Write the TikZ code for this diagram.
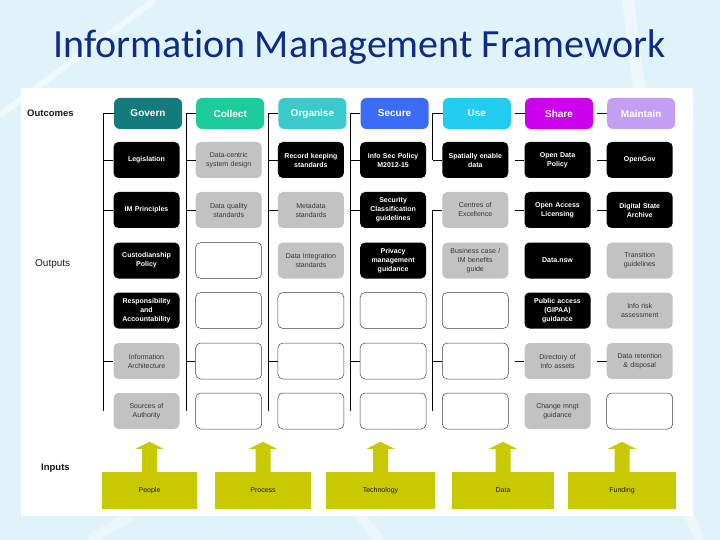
\documentclass[tikz,border=0pt]{standalone}
\usepackage{fontspec}
\setmainfont{Liberation Sans}
\setsansfont{Liberation Sans}
\newfontfamily\titlefont[Ligatures=NoCommon]{Carlito}
\usetikzlibrary{calc}
\definecolor{bgblue}{HTML}{E1F3FA}
\definecolor{titleblue}{HTML}{0E2C86}
\definecolor{cGovern}{HTML}{137B7E}
\definecolor{cCollect}{HTML}{1ECB9A}
\definecolor{cOrganise}{HTML}{3ACACB}
\definecolor{cSecure}{HTML}{3B6CF8}
\definecolor{cUse}{HTML}{22CCF0}
\definecolor{cShare}{HTML}{CC00EC}
\definecolor{cMaintain}{HTML}{C49EF4}
\definecolor{cellgray}{HTML}{C2C2C2}
\definecolor{graytext}{HTML}{363636}
\definecolor{inputyellow}{HTML}{C9C900}
\begin{document}
\begin{tikzpicture}[x=1pt,y=-1pt,
  hdr/.style={rounded corners=6pt, minimum width=68pt, minimum height=31pt, inner sep=0pt, text=white, font=\fontsize{10}{12}\selectfont\bfseries},
  cellbase/.style={rounded corners=5pt, minimum width=66pt, minimum height=36pt, inner sep=1pt, align=center, text width=64pt},
  blk/.style={cellbase, fill=black, text=white, font=\fontsize{7}{9}\selectfont\bfseries},
  gry/.style={cellbase, fill=cellgray, text=graytext, font=\fontsize{7}{9}\selectfont},
  emp/.style={cellbase, draw=black!75, line width=0.5pt, fill=white},
  conn/.style={draw=black, line width=0.8pt},
  inbox/.style={fill=inputyellow, minimum height=37pt, inner sep=0pt, font=\fontsize{7}{9}\selectfont, text=black!90},
  lbl/.style={font=\fontsize{10}{12}\selectfont, text=black!90, anchor=west, inner sep=0pt},
]
\useasboundingbox (0,0) rectangle (720,540);
% background
\fill[bgblue] (0,0) rectangle (720,540);
\draw[white, opacity=0.5, line width=6pt] (0,115) -- (155,0);
\draw[white, opacity=0.4, line width=12pt] (628,0) -- (640,95);
\draw[white, opacity=0.35, line width=10pt] (90,540) -- (130,516);
\draw[white, opacity=0.35, line width=10pt] (360,516) -- (380,540);
\draw[white, opacity=0.35, line width=10pt] (690,516) -- (700,540);
% title
\node[font=\titlefont\fontsize{40}{44}\selectfont, text=titleblue, anchor=base, inner sep=0pt] (title) at (359.5,58) {Information Management Framework};
% panel
\fill[white] (21,88) rectangle (693,516);

% labels
\node[lbl, font=\fontsize{9.5}{12}\selectfont\bfseries] (outcomes) at (27,113.5) {Outcomes};
\node[lbl] (outputs) at (35,264) {Outputs};
\node[lbl, font=\fontsize{9.5}{12}\selectfont\bfseries] (inputs) at (41,468) {Inputs};

% headers
\node[hdr, fill=cGovern]   (h1) at (148,113.5)   {Govern};
\node[hdr, fill=cCollect]  (h2) at (230.2,113.5) {Collect};
\node[hdr, fill=cOrganise] (h3) at (312.4,113.5) {Organise};
\node[hdr, fill=cSecure]   (h4) at (394.6,113.5) {Secure};
\node[hdr, fill=cUse]      (h5) at (476.8,113.5) {Use};
\node[hdr, fill=cShare]    (h6) at (559,113.5)   {Share};
\node[hdr, fill=cMaintain] (h7) at (641.2,113.5) {Maintain};

% column 1
\node[blk] (c1r1) at (146.5,160)   {Legislation};
\node[blk] (c1r2) at (146.5,210)   {IM Principles};
\node[blk] (c1r3) at (146.5,260.5) {Custodianship\\Policy};
\node[blk] (c1r4) at (146.5,310.5) {Responsibility\\and\\Accountability};
\node[gry] (c1r5) at (146.5,361)   {Information\\Architecture};
\node[gry] (c1r6) at (146.5,411)   {Sources of\\Authority};
% column 2
\node[gry] (c2r1) at (228.7,160)   {Data-centric\\system design};
\node[gry] (c2r2) at (228.7,210)   {Data quality\\standards};
\node[emp] (c2r3) at (228.7,260.5) {};
\node[emp] (c2r4) at (228.7,310.5) {};
\node[emp] (c2r5) at (228.7,361)   {};
\node[emp] (c2r6) at (228.7,411)   {};
% column 3
\node[blk] (c3r1) at (310.9,160)   {Record keeping\\standards};
\node[gry] (c3r2) at (310.9,210)   {Metadata\\standards};
\node[gry] (c3r3) at (310.9,260.5) {Data Integration\\standards};
\node[emp] (c3r4) at (310.9,310.5) {};
\node[emp] (c3r5) at (310.9,361)   {};
\node[emp] (c3r6) at (310.9,411)   {};
% column 4
\node[blk] (c4r1) at (393.1,160)   {Info Sec Policy\\M2012-15};
\node[blk] (c4r2) at (393.1,210)   {Security\\Classification\\guidelines};
\node[blk] (c4r3) at (393.1,260.5) {Privacy\\management\\guidance};
\node[emp] (c4r4) at (393.1,310.5) {};
\node[emp] (c4r5) at (393.1,361)   {};
\node[emp] (c4r6) at (393.1,411)   {};
% column 5
\node[blk] (c5r1) at (475.3,160)   {Spatially enable\\data};
\node[gry] (c5r2) at (475.3,210)   {Centres of\\Excellence};
\node[gry] (c5r3) at (475.3,260.5) {Business case /\\IM benefits\\guide};
\node[emp] (c5r4) at (475.3,310.5) {};
\node[emp] (c5r5) at (475.3,361)   {};
\node[emp] (c5r6) at (475.3,411)   {};
% column 6
\node[blk] (c6r1) at (557.5,160)   {Open Data\\Policy};
\node[blk] (c6r2) at (557.5,210)   {Open Access\\Licensing};
\node[blk] (c6r3) at (557.5,260.5) {Data.nsw};
\node[blk] (c6r4) at (557.5,310.5) {Public access\\(GIPAA)\\guidance};
\node[gry] (c6r5) at (557.5,361)   {Directory of\\Info assets};
\node[gry] (c6r6) at (557.5,411)   {Change mngt\\guidance};
% column 7
\node[blk] (c7r1) at (639.7,160)   {OpenGov};
\node[blk] (c7r2) at (639.7,210)   {Digital State\\Archive};
\node[gry] (c7r3) at (639.7,260.5) {Transition\\guidelines};
\node[gry] (c7r4) at (639.7,310.5) {Info risk\\assessment};
\node[gry] (c7r5) at (639.7,361)   {Data retention\\\& disposal};
\node[emp] (c7r6) at (639.7,411)   {};

% connectors
\foreach \c in {1,...,5}{
  \coordinate (v\c) at ($(h\c.west)+(-10,0)$);
  \coordinate (v\c b) at (v\c |- c\c r6.center);
  \draw[conn] (h\c.west) -- (v\c);
  \foreach \r in {1,2,5}{ \draw[conn] (c\c r\r.west) -- (c\c r\r.west -| v\c); }
}
\foreach \c in {1,...,4}{ \draw[conn] (v\c) -- (v\c b); }
\draw[conn] (v5) -- (v5 |- c5r1.west);
\draw[conn] (v5 |- c5r2.west) -- (v5b);
\foreach \c in {6,7}{
  \coordinate (v\c) at ($(h\c.west)+(-10,0)$);
  \draw[conn] (h\c.west) -- (v\c);
  \foreach \r in {1,2,5}{ \draw[conn] (c\c r\r.west) -- (c\c r\r.west -| v\c); }
}

% inputs
\node[inbox, minimum width=95pt]  (in1) at (149.5,490.5) {People};
\node[inbox, minimum width=96pt]  (in2) at (263,490.5)   {Process};
\node[inbox, minimum width=109pt] (in3) at (380.5,490.5) {Technology};
\node[inbox, minimum width=102pt] (in4) at (503,490.5)   {Data};
\node[inbox, minimum width=108pt] (in5) at (622,490.5)   {Funding};
\foreach \i in {1,...,5}{
  \fill[inputyellow] ($(in\i.north)+(-7.5,0.5)$) -- ($(in\i.north)+(-7.5,-23)$) -- ($(in\i.north)+(-14,-23)$) -- ($(in\i.north)+(0,-30)$) -- ($(in\i.north)+(14,-23)$) -- ($(in\i.north)+(7.5,-23)$) -- ($(in\i.north)+(7.5,0.5)$) -- cycle;
}
\end{tikzpicture}
\end{document}
